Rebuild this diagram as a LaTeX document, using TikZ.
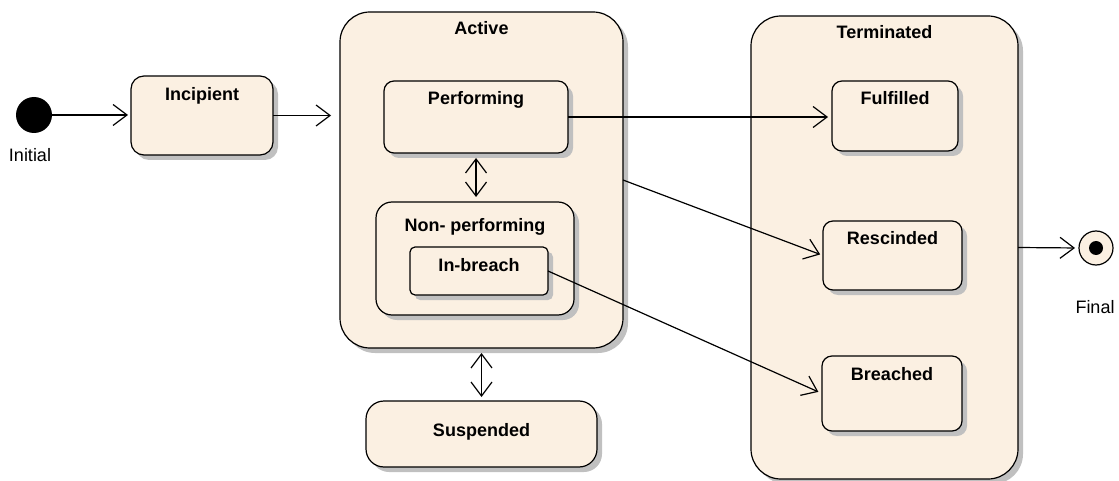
\documentclass[tikz,border=0pt]{standalone}
\usepackage{fontspec}
\setmainfont{Liberation Sans}
\usetikzlibrary{arrows.meta,shadows,calc}
\definecolor{statefill}{RGB}{251,240,226}
\definecolor{shadowgray}{RGB}{192,192,192}
\tikzset{
  state/.style={draw=black, line width=1.2pt, fill=statefill, rectangle,
    inner sep=0pt, outer sep=0pt,
    drop shadow={shadow xshift=5pt, shadow yshift=-5pt, fill=shadowgray, opacity=1}},
  title/.style={anchor=base, inner sep=0pt, font=\fontsize{18}{21}\selectfont\bfseries},
  plain/.style={anchor=base, inner sep=0pt, font=\fontsize{18}{21}\selectfont},
  trans/.style={draw=black, line width=1.2pt,
    -{Straight Barb[length=14pt,width=21pt,line width=1.2pt]}},
  twoway/.style={draw=black, line width=1.2pt,
    {Straight Barb[length=14pt,width=21pt,line width=1.2pt]}-{Straight Barb[length=14pt,width=21pt,line width=1.2pt]}},
}
\begin{document}
\begin{tikzpicture}[x=1pt,y=-1pt]
\useasboundingbox (0,0) rectangle (1119,481);

% composite states
\node[state, rounded corners=30pt, minimum width=283pt, minimum height=336pt] (act) at (481.5,180) {};
\node[title] at ($(act.north)+(0,22.5)$) {Active};
\node[state, rounded corners=30pt, minimum width=267pt, minimum height=463pt] (term) at (884.5,247.5) {};
\node[title] at ($(term.north)+(0,23)$) {Terminated};

% simple states
\node[state, rounded corners=13pt, minimum width=142pt, minimum height=79pt] (inc) at (202,115.5) {};
\node[title] at ($(inc.north)+(0,25)$) {Incipient};

\node[state, rounded corners=10pt, minimum width=184pt, minimum height=72pt] (perf) at (476,117) {};
\node[title] at ($(perf.north)+(0,24)$) {Performing};

\node[state, rounded corners=16pt, minimum width=198pt, minimum height=113pt] (np) at (475,258.5) {};
\node[title] at ($(np.north)+(0,30)$) {Non- performing};

\node[state, rounded corners=5pt, minimum width=138pt, minimum height=48pt] (inb) at (479,271) {};
\node[title] at ($(inb.north)+(0,24)$) {In-breach};

\node[state, rounded corners=18pt, minimum width=231pt, minimum height=66pt] (susp) at (481.5,434) {};
\node[title] at ($(susp.north)+(0,35)$) {Suspended};

\node[state, rounded corners=10pt, minimum width=126pt, minimum height=70pt] (ful) at (895,116) {};
\node[title] at ($(ful.north)+(0,24)$) {Fulfilled};

\node[state, rounded corners=10pt, minimum width=139pt, minimum height=69pt] (resc) at (892.5,255.5) {};
\node[title] at ($(resc.north)+(0,23)$) {Rescinded};

\node[state, rounded corners=10pt, minimum width=140pt, minimum height=75pt] (bre) at (892,393.5) {};
\node[title] at ($(bre.north)+(0,24)$) {Breached};

% pseudo states
\node[circle, fill=black, minimum size=36pt, inner sep=0pt, outer sep=0pt] (init) at (34,115) {};
\node[plain] at (30,161.5) {Initial};

\node[circle, draw=black, line width=1.2pt, fill=statefill, minimum size=34pt, inner sep=0pt, outer sep=0pt] (fin) at (1096,248) {};
\fill[black] (fin.center) circle (7pt);
\node[plain] at (1095,313) {Final};

% transitions
\draw[trans, shorten >=3pt] (init) -- (inc.west |- init);
\draw[trans, shorten >=9pt] (inc.east) -- (act.west |- inc.east);
\draw[trans, shorten >=4pt] (perf.east) -- (ful.west |- perf.east);
\draw[trans, shorten >=3pt] (act.east) -- (resc.west);
\draw[trans, shorten >=4pt] (inb.east) -- (bre.west);
\draw[trans, shorten >=4pt] (term.east) -- (fin.west);
\draw[twoway, shorten <=5pt, shorten >=5pt] (perf.south) -- (perf.south |- np.north);
\draw[twoway, shorten <=5pt, shorten >=4pt] (act.south) -- (susp.north);
\end{tikzpicture}
\end{document}
